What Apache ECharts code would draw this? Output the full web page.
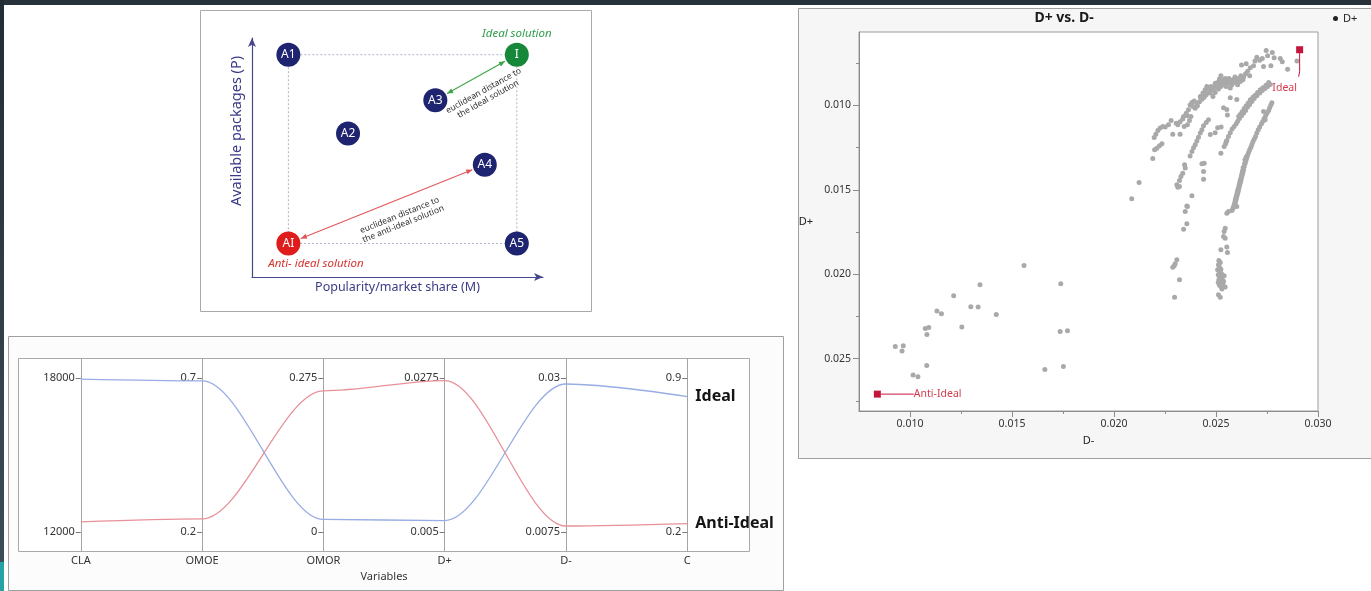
<!DOCTYPE html>
<html>
<head>
<meta charset="utf-8">
<title>TOPSIS ideal / anti-ideal overview</title>
<script src="https://cdn.jsdelivr.net/npm/echarts@6/dist/echarts.min.js"></script>
<style>
  html, body { margin: 0; padding: 0; background: #ffffff; }
  #main { width: 1371px; height: 591px; }
</style>
</head>
<body>
<div id="main"></div>
<script>
// ---------- Concept sketch: alternatives by market share (M) and packages (P)
const altNames = ['A1', 'A2', 'A3', 'A4', 'A5', 'I', 'AI'];
const altM = [1.25, 3.3, 6.3, 8.0, 9.1, 9.1, 1.25];
const altP = [9.3, 6.0, 7.4, 4.7, 1.4, 9.3, 1.4];

// ---------- Profile of the ideal and anti-ideal solutions
const variables = ['CLA', 'OMOE', 'OMOR', 'D+', 'D-', 'C'];
const tickHigh = [18000, 0.7, 0.275, 0.0275, 0.03, 0.9];
const tickLow = [12000, 0.2, 0, 0.005, 0.0075, 0.2];
const idealProfile = [17950, 0.69, 0.0227, 0.0067, 0.0291, 0.815];
const antiIdealProfile = [12400, 0.243, 0.2517, 0.0271, 0.0084, 0.239];

// ---------- D+ vs. D- scatter
const scatterXMajor = [0.010, 0.015, 0.020, 0.025, 0.030];
const scatterXMinor = [0.0125, 0.0175, 0.0225, 0.0275];
const scatterYMajor = [0.010, 0.015, 0.020, 0.025];
const scatterYMinor = [0.0075, 0.0125, 0.0175, 0.0225, 0.0275];

// [D-, D+] of every alternative
const dPoints = [
  // scattered low-score alternatives
  [0.01559,0.01948],[0.01739,0.02056],[0.01343,0.02062],[0.01214,0.02127],[0.01298,0.02193],
  [0.01334,0.02194],[0.01132,0.02218],[0.01154,0.02234],[0.01423,0.02238],[0.01254,0.02313],
  [0.01075,0.02321],[0.01092,0.02315],[0.01083,0.02357],[0.01736,0.02339],[0.01772,0.02335],
  [0.00928,0.02428],[0.00967,0.02424],[0.00961,0.02455],[0.01082,0.02540],[0.01661,0.02564],
  [0.01752,0.02546],[0.01015,0.02597],[0.01039,0.02607],
  // upper band
  [0.02087,0.01553],[0.02123,0.01456],[0.02190,0.01314],[0.02199,0.01263],[0.02210,0.01253],
  [0.02223,0.01239],[0.02235,0.01227],[0.02197,0.01190],[0.02205,0.01170],[0.02215,0.01148],
  [0.02226,0.01134],[0.02239,0.01125],[0.02251,0.01128],[0.02280,0.01089],[0.02288,0.01170],
  [0.02324,0.01170],[0.02313,0.01115],[0.02324,0.01097],[0.02337,0.01081],[0.02344,0.01125],
  [0.02360,0.01115],[0.02370,0.01089],[0.02377,0.01065],[0.02373,0.00998],[0.02382,0.00982],
  [0.02393,0.00974],[0.02398,0.01016],[0.02409,0.01002],[0.02419,0.00978],[0.02431,0.00963],
  [0.02442,0.00951],[0.02452,0.00937],[0.02458,0.00923],[0.02468,0.00911],[0.02480,0.00903],
  [0.02488,0.00891],[0.02501,0.00884],[0.02508,0.00864],[0.02517,0.00844],[0.02524,0.00824],
  [0.02534,0.00852],[0.02545,0.00840],[0.02553,0.00860],[0.02563,0.00840],[0.02573,0.00860],
  [0.02583,0.00848],[0.02593,0.00832],[0.02602,0.00856],[0.02612,0.00840],[0.02622,0.00824],
  [0.02635,0.00832],[0.02645,0.00812],[0.02655,0.00797],[0.02665,0.00824],[0.02625,0.00761],
  [0.02648,0.00753],[0.02668,0.00777],[0.02684,0.00765],[0.02691,0.00737],[0.02700,0.00714],
  [0.02714,0.00733],[0.02727,0.00722],[0.02733,0.00769],[0.02746,0.00674],[0.02753,0.00706],
  [0.02776,0.00686],[0.02769,0.00765],[0.02785,0.00718],[0.02815,0.00722],[0.02825,0.00741],
  [0.02851,0.00785],[0.02897,0.00737],[0.02472,0.00927],[0.02485,0.00947],[0.02496,0.00923],
  [0.02512,0.00903],[0.02524,0.00888],[0.02537,0.00878],[0.02550,0.00888],[0.02570,0.00897],
  [0.02423,0.00947],[0.02436,0.00927],[0.02447,0.00907],[0.02455,0.00888],[0.02496,0.00868],
  [0.02508,0.00888],[0.02521,0.00864],[0.02530,0.00878],[0.02540,0.00864],[0.02560,0.00868],
  [0.02578,0.00878],[0.02589,0.00864],[0.02606,0.00878],[0.02619,0.00858],[0.02632,0.00848],
  [0.02488,0.00907],[0.02475,0.00888],[0.02463,0.00907],[0.02452,0.00923],[0.02439,0.00937],
  [0.02426,0.00957],[0.02406,0.00986],[0.02387,0.01006],[0.02365,0.01026],[0.02354,0.01046],
  [0.02341,0.01065],[0.02360,0.01061],[0.02305,0.01105],[0.02267,0.01115],
  // second band
  [0.02766,0.00876],[0.02753,0.00888],[0.02740,0.00899],[0.02727,0.00911],[0.02714,0.00927],
  [0.02700,0.00943],[0.02687,0.00959],[0.02676,0.00976],[0.02665,0.00994],[0.02655,0.01010],
  [0.02645,0.01030],[0.02635,0.01046],[0.02625,0.01061],[0.02615,0.01077],[0.02606,0.01093],
  [0.02599,0.01109],[0.02589,0.01125],[0.02579,0.01140],[0.02570,0.01162],[0.02561,0.01184],
  [0.02553,0.01207],[0.02547,0.01227],[0.02540,0.01243],[0.02758,0.00864],[0.02745,0.00880],
  [0.02730,0.00895],[0.02717,0.00907],[0.02704,0.00923],[0.02692,0.00939],[0.02681,0.00951],
  [0.02668,0.00967],[0.02658,0.00986],[0.02648,0.01002],[0.02638,0.01018],[0.02628,0.01038],
  [0.02619,0.01053],[0.02611,0.01065],
  // right arm
  [0.02774,0.00984],[0.02769,0.00998],[0.02763,0.01014],[0.02758,0.01030],[0.02750,0.01046],
  [0.02743,0.01061],[0.02736,0.01077],[0.02730,0.01093],[0.02723,0.01109],[0.02714,0.01128],
  [0.02707,0.01144],[0.02700,0.01164],[0.02694,0.01184],[0.02687,0.01200],[0.02681,0.01215],
  [0.02676,0.01231],[0.02671,0.01247],[0.02665,0.01263],[0.02660,0.01279],[0.02655,0.01294],
  [0.02651,0.01310],[0.02647,0.01326],[0.02643,0.01342],[0.02638,0.01362],[0.02635,0.01381],
  [0.02632,0.01397],[0.02628,0.01413],[0.02625,0.01429],[0.02622,0.01444],[0.02619,0.01460],
  [0.02615,0.01476],[0.02612,0.01492],[0.02609,0.01508],[0.02606,0.01523],[0.02602,0.01539],
  [0.02599,0.01555],[0.02596,0.01571],[0.02593,0.01587],[0.02586,0.01602],[0.02648,0.01306],
  [0.02642,0.01322],[0.02640,0.01346],[0.02633,0.01369],[0.02630,0.01389],[0.02627,0.01405],
  [0.02624,0.01421],[0.02620,0.01437],[0.02617,0.01452],[0.02614,0.01468],[0.02611,0.01484],
  [0.02607,0.01500],[0.02604,0.01516],[0.02601,0.01531],[0.02597,0.01547],[0.02594,0.01563],
  [0.02591,0.01579],[0.02588,0.01594],[0.02583,0.01610],[0.02578,0.01622],[0.02733,0.01036],
  [0.02741,0.01085],
  [0.02602,0.01598],[0.02561,0.01628],[0.02553,0.01638],[0.02545,0.01727],[0.02540,0.01747],
  [0.02537,0.01776],[0.02545,0.01786],[0.02524,0.01855],[0.02553,0.01839],[0.02556,0.01871],
  [0.02514,0.01918],[0.02521,0.01930],[0.02512,0.01944],[0.02517,0.01958],[0.02524,0.01970],
  [0.02514,0.01978],[0.02521,0.01990],[0.02527,0.01997],[0.02511,0.02003],[0.02517,0.02013],
  [0.02524,0.02021],[0.02530,0.02029],[0.02514,0.02033],[0.02521,0.02045],[0.02527,0.02053],
  [0.02534,0.02061],[0.02517,0.02065],[0.02524,0.02072],[0.02530,0.02080],[0.02537,0.02041],
  [0.02540,0.02009],[0.02508,0.01974],[0.02511,0.02049],[0.02529,0.02088],[0.02545,0.02076],
  [0.02512,0.02122],[0.02521,0.02136],
  // middle arm
  [0.02346,0.01352],[0.02349,0.01371],[0.02337,0.01401],[0.02328,0.01421],[0.02321,0.01444],
  [0.02308,0.01470],[0.02313,0.01484],[0.02321,0.01480],[0.02382,0.01535],[0.02357,0.01595],
  [0.02349,0.01628],[0.02360,0.01598],[0.02357,0.01701],[0.02341,0.01733],[0.02308,0.01914],
  [0.02300,0.01938],[0.02288,0.01958],[0.02295,0.01950],[0.02321,0.02033],[0.02297,0.02136],
  [0.02373,0.01300],[0.02390,0.01251],[0.02406,0.01211],[0.02414,0.01188],[0.02382,0.01273],
  [0.02398,0.01233],[0.02423,0.01164],[0.02431,0.01144],[0.02439,0.01121],[0.02452,0.01101],
  [0.02463,0.01085],[0.02472,0.01172],[0.02496,0.01162],[0.02508,0.01132],[0.02525,0.01128],
  [0.02537,0.01014],[0.02556,0.01057],[0.02553,0.01024],[0.02570,0.00955],[0.02602,0.00965],
  [0.02524,0.01283],[0.02550,0.01215],[0.02442,0.01342],[0.02431,0.01346],[0.02439,0.01391],
  [0.02439,0.01437]
];

// ---------- helpers
const FONT = 'Noto Sans';
const num = v => String(parseFloat(Number(v).toPrecision(6)));
const parMin = tickLow.map((lo, i) => lo - (tickHigh[i] - lo) / 8);
const parMax = tickHigh.map((hi, i) => hi + (hi - tickLow[i]) / 8);
const toUnit = (v, i) => (v - parMin[i]) / (parMax[i] - parMin[i]);
const altPoint = n => { const k = altNames.indexOf(n); return [altM[k], altP[k]]; };
const altColor = n => n === 'I' ? '#17883a' : (n === 'AI' ? '#e01b1b' : '#1e2470');

// D-/D+ of the two reference solutions come from their profiles
const idealPoint = [idealProfile[4], idealProfile[3]];
const antiIdealPoint = [antiIdealProfile[4], antiIdealProfile[3]];

const chart = echarts.init(document.getElementById('main'), null, { renderer: 'canvas' });

// profile grid geometry
const PROF = { left: 80.8, top: 358.5, width: 606.5, height: 193 };
const profStep = PROF.width / (variables.length - 1);
const gray = '#8c8c8c';
const markRed = '#c4163a';

const profileAxes = variables.map((v, i) => ({
  gridIndex: 1, type: 'value', position: 'left', offset: -i * profStep,
  min: parMin[i], max: parMax[i],
  axisLine: { show: true, onZero: false, lineStyle: { color: '#a4a4a4', width: 1 } },
  axisTick: { show: true, length: 5, customValues: [tickLow[i], tickHigh[i]], lineStyle: { color: '#7a7a7a' } },
  axisLabel: { show: true, customValues: [tickLow[i], tickHigh[i]], formatter: num, margin: 6,
               fontSize: 11, color: '#333', fontFamily: FONT },
  splitLine: { show: false }
}));

const option = {
  animation: false,
  textStyle: { fontFamily: FONT },
  title: [{
    text: 'D+ vs. D-', left: 1059, top: 6, textAlign: 'center',
    textStyle: { fontSize: 14, fontWeight: 'bold', color: '#1b1b1b', fontFamily: FONT }
  }],
  legend: {
    data: [{ name: 'D+', icon: 'circle', itemStyle: { color: '#222' } }],
    left: 1328, top: 8, itemWidth: 5, itemHeight: 5, selectedMode: false,
    textStyle: { fontSize: 11, color: '#222', fontFamily: FONT }
  },
  grid: [
    { left: 252, top: 38, width: 291, height: 239 },
    { left: PROF.left, top: PROF.top, width: PROF.width, height: PROF.height },
    { left: 859, top: 32, width: 459, height: 379, show: true,
      backgroundColor: '#ffffff', borderColor: '#9c9c9c', borderWidth: 1 }
  ],
  xAxis: [
    { gridIndex: 0, type: 'value', min: 0, max: 10,
      axisLine: { show: true, onZero: false, symbol: ['none', 'arrow'], symbolSize: [6, 9],
                  lineStyle: { color: '#46468f', width: 1.2 } },
      axisTick: { show: false }, axisLabel: { show: false }, splitLine: { show: false },
      name: 'Popularity/market share (M)', nameLocation: 'middle', nameGap: 4,
      nameTextStyle: { color: '#3a3a85', fontSize: 12.5, fontFamily: FONT } },
    { gridIndex: 1, type: 'category', data: variables, boundaryGap: false,
      axisLine: { show: false }, axisTick: { show: false },
      axisLabel: { margin: 4, fontSize: 11, color: '#333', fontFamily: FONT },
      splitLine: { show: false },
      name: 'Variables', nameLocation: 'middle', nameGap: 20,
      nameTextStyle: { fontSize: 11, color: '#333', fontFamily: FONT } },
    { gridIndex: 2, type: 'value', min: 0.0075, max: 0.030, position: 'bottom',
      axisLine: { show: true, onZero: false, lineStyle: { color: gray } },
      axisTick: { show: true, length: 6, customValues: scatterXMajor, lineStyle: { color: gray } },
      axisLabel: { customValues: scatterXMajor, formatter: v => v.toFixed(3), margin: 8,
                   fontSize: 10.5, color: '#333', fontFamily: FONT },
      splitLine: { show: false },
      name: 'D-', nameLocation: 'middle', nameGap: 24,
      nameTextStyle: { fontSize: 11, color: '#222', fontFamily: FONT } },
    { gridIndex: 2, type: 'value', min: 0.0075, max: 0.030, position: 'bottom',
      axisLine: { show: false },
      axisTick: { show: true, length: 3, customValues: scatterXMinor, lineStyle: { color: gray } },
      axisLabel: { show: false }, splitLine: { show: false } }
  ],
  yAxis: [
    { gridIndex: 0, type: 'value', min: 0, max: 10,
      axisLine: { show: true, onZero: false, symbol: ['none', 'arrow'], symbolSize: [6, 9],
                  lineStyle: { color: '#46468f', width: 1.2 } },
      axisTick: { show: false }, axisLabel: { show: false }, splitLine: { show: false },
      name: 'Available packages (P)', nameLocation: 'middle', nameGap: 8,
      nameTextStyle: { color: '#3a3a85', fontSize: 14.5, fontFamily: FONT, padding: [0, 0, 0, 53] } },
    { gridIndex: 1, type: 'value', min: 0, max: 1, show: false },
    { gridIndex: 2, type: 'value', inverse: true, min: 0.00565, max: 0.0281, position: 'left',
      axisLine: { show: true, onZero: false, lineStyle: { color: gray } },
      axisTick: { show: true, length: 6, customValues: scatterYMajor, lineStyle: { color: gray } },
      axisLabel: { customValues: scatterYMajor, formatter: v => v.toFixed(3), margin: 8,
                   fontSize: 10.5, color: '#333', fontFamily: FONT },
      splitLine: { show: false },
      name: 'D+', nameLocation: 'middle', nameRotate: 0, nameGap: 46,
      nameTextStyle: { fontSize: 11, color: '#222', fontFamily: FONT } },
    { gridIndex: 2, type: 'value', inverse: true, min: 0.00565, max: 0.0281, position: 'left',
      axisLine: { show: false },
      axisTick: { show: true, length: 3, customValues: scatterYMinor, lineStyle: { color: gray } },
      axisLabel: { show: false }, splitLine: { show: false } }
  ].concat(profileAxes),
  series: [
    // dotted frame through the four extreme alternatives
    { type: 'line', xAxisIndex: 0, yAxisIndex: 0, silent: true, symbol: 'none', z: 1,
      data: ['A1', 'I', 'A5', 'AI', 'A1'].map(altPoint),
      lineStyle: { color: '#aab3c8', width: 1, type: [2, 2] } },
    // alternatives
    { type: 'scatter', xAxisIndex: 0, yAxisIndex: 0, silent: true, symbolSize: 24, z: 3,
      data: altNames.map((n, i) => ({ name: n, value: [altM[i], altP[i]],
                                      itemStyle: { color: altColor(n), opacity: 1 } })),
      label: { show: true, position: 'inside', formatter: '{b}', color: '#ffffff', fontSize: 12, fontFamily: FONT } },
    // profiles
    { name: 'Ideal', type: 'line', xAxisIndex: 1, yAxisIndex: 1, silent: true,
      data: idealProfile.map(toUnit), symbol: 'none', smooth: 0.33, smoothMonotone: 'x',
      lineStyle: { color: '#98ade3', width: 1.3 },
      endLabel: { show: true, formatter: '{a}', distance: 8, fontSize: 16, fontWeight: 'bold',
                  color: '#151515', fontFamily: FONT } },
    { name: 'Anti-Ideal', type: 'line', xAxisIndex: 1, yAxisIndex: 1, silent: true,
      data: antiIdealProfile.map(toUnit), symbol: 'none', smooth: 0.33, smoothMonotone: 'x',
      lineStyle: { color: '#e8919a', width: 1.3 },
      endLabel: { show: true, formatter: '{a}', distance: 8, fontSize: 16, fontWeight: 'bold',
                  color: '#151515', fontFamily: FONT } },
    // D+ vs D-
    { name: 'D+', type: 'scatter', xAxisIndex: 2, yAxisIndex: 2, silent: true,
      data: dPoints, symbolSize: 5, itemStyle: { color: '#a9a9a9', opacity: 1 } },
    { name: 'IdealMark', type: 'scatter', xAxisIndex: 2, yAxisIndex: 2, silent: true, z: 4,
      data: [idealPoint], symbol: 'rect', symbolSize: 7, itemStyle: { color: markRed, opacity: 1 },
      label: { show: true, formatter: 'Ideal', position: 'bottom', color: '#d33b4d', fontSize: 10.5, fontFamily: FONT },
      labelLayout: { dx: -15, dy: 24 } },
    { name: 'AntiIdealMark', type: 'scatter', xAxisIndex: 2, yAxisIndex: 2, silent: true, z: 4,
      data: [antiIdealPoint], symbol: 'rect', symbolSize: 7, itemStyle: { color: markRed, opacity: 1 },
      label: { show: true, formatter: 'Anti-Ideal', position: 'right', color: '#d33b4d', fontSize: 10.5, fontFamily: FONT },
      labelLayout: { dx: 28 },
      labelLine: { show: true, lineStyle: { color: markRed, width: 1 } } }
  ]
};

chart.setOption(option);

// ---------- panels, arrows and captions
const panels = [
  { type: 'rect', z: -20, shape: { x: 0, y: 0, width: 1371, height: 5 }, style: { fill: '#28323b' } },
  { type: 'rect', z: -20, shape: { x: 0, y: 0, width: 4, height: 591 },
    style: { fill: new echarts.graphic.LinearGradient(0, 0, 0, 1, [
      { offset: 0, color: '#212c35' }, { offset: 1, color: '#3e4f5a' }]) } },
  { type: 'rect', z: -19, shape: { x: 0, y: 562, width: 4, height: 29 }, style: { fill: '#27a2a7' } },
  { type: 'rect', z: -10, shape: { x: 200.5, y: 10.5, width: 391, height: 301 },
    style: { fill: '#ffffff', stroke: '#a9a9a9', lineWidth: 1 } },
  { type: 'rect', z: -10, shape: { x: 8.5, y: 336.5, width: 775, height: 254 },
    style: { fill: '#fcfcfc', stroke: '#a0a0a0', lineWidth: 1 } },
  { type: 'rect', z: -9, shape: { x: 18.5, y: 358.5, width: 731, height: 193 },
    style: { fill: '#ffffff', stroke: '#aaaaaa', lineWidth: 1 } },
  { type: 'rect', z: -10, shape: { x: 798.5, y: 8.5, width: 580, height: 450 },
    style: { fill: '#f6f6f6', stroke: '#a0a0a0', lineWidth: 1 } }
];

function distanceArrow(fromName, toName, color, text, along) {
  const a = chart.convertToPixel({ gridIndex: 0 }, altPoint(fromName));
  const b = chart.convertToPixel({ gridIndex: 0 }, altPoint(toName));
  const dx = b[0] - a[0], dy = b[1] - a[1];
  const len = Math.hypot(dx, dy);
  const ux = dx / len, uy = dy / len;
  const gap = 13.5;
  const s = [a[0] + ux * gap, a[1] + uy * gap];
  const e = [b[0] - ux * gap, b[1] - uy * gap];
  const head = (tip, vx, vy) => ({
    type: 'polygon', z: 6,
    shape: { points: [tip,
      [tip[0] - vx * 6 - vy * 2.6, tip[1] - vy * 6 + vx * 2.6],
      [tip[0] - vx * 6 + vy * 2.6, tip[1] - vy * 6 - vx * 2.6]] },
    style: { fill: color }
  });
  const nx = -uy, ny = ux; // normal pointing below the line
  const mid = [(s[0] + e[0]) / 2 + ux * along + nx * 20, (s[1] + e[1]) / 2 + uy * along + ny * 20];
  return [
    { type: 'line', z: 5, shape: { x1: s[0], y1: s[1], x2: e[0], y2: e[1] },
      style: { stroke: color, lineWidth: 1.1 } },
    head(e, ux, uy),
    head(s, -ux, -uy),
    { type: 'text', z: 6, x: mid[0], y: mid[1], rotation: Math.atan2(-dy, dx),
      style: { text: text, fill: '#2e2e2e', font: '8.5px "Noto Sans"', align: 'center',
               verticalAlign: 'middle', lineHeight: 9.5 } }
  ];
}

const pI = chart.convertToPixel({ gridIndex: 0 }, altPoint('I'));
const pAI = chart.convertToPixel({ gridIndex: 0 }, altPoint('AI'));
// guide from the ideal marker down to its label
const pIdeal = chart.convertToPixel({ xAxisIndex: 2, yAxisIndex: 2 }, idealPoint);

const sketch = []
  .concat(distanceArrow('A3', 'I', '#3fa447', 'euclidean distance to\nthe ideal solution', 0))
  .concat(distanceArrow('AI', 'A4', '#e0575a', 'euclidean distance to\nthe anti-ideal solution', 8))
  .concat([
    { type: 'text', z: 6, x: pI[0], y: pI[1] - 21,
      style: { text: 'Ideal solution', fill: '#2f9d49', font: 'italic 11.5px "Noto Sans"',
               align: 'center', verticalAlign: 'middle' } },
    { type: 'text', z: 6, x: pAI[0] + 27.5, y: pAI[1] + 20,
      style: { text: 'Anti- ideal solution', fill: '#d8342e', font: 'italic 11.5px "Noto Sans"',
               align: 'center', verticalAlign: 'middle' } },
    { type: 'polyline', z: 7,
      shape: { points: [[pIdeal[0], pIdeal[1] + 3], [pIdeal[0], pIdeal[1] + 22], [pIdeal[0] - 1, pIdeal[1] + 27]] },
      style: { stroke: markRed, lineWidth: 1, fill: null } }
  ]);

chart.setOption({ graphic: { elements: panels.concat(sketch) } });
</script>
</body>
</html>
